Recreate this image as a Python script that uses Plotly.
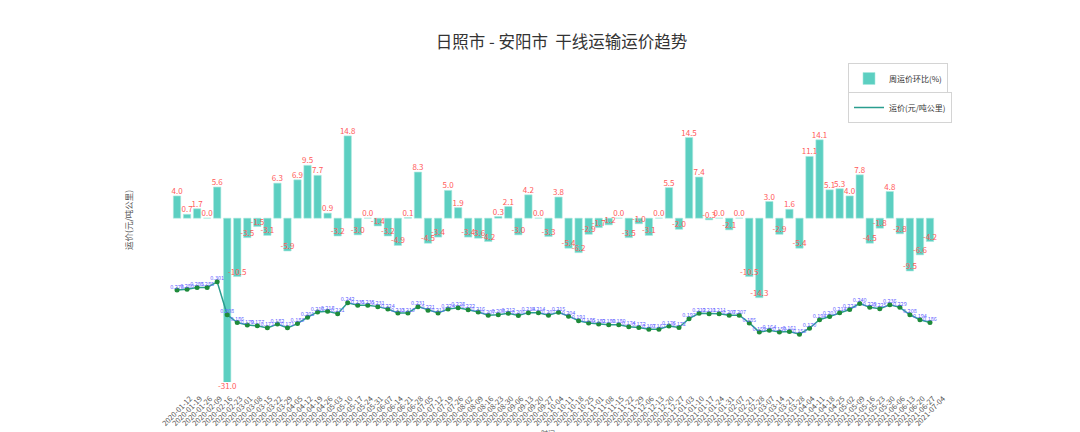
import plotly.graph_objects as go

dates = [
    "2020-01-12", "2020-01-19", "2020-01-26", "2020-02-09", "2020-02-16", "2020-02-23",
    "2020-03-01", "2020-03-08", "2020-03-15", "2020-03-22", "2020-03-29",
    "2020-04-05", "2020-04-12", "2020-04-19", "2020-04-26",
    "2020-05-03", "2020-05-10", "2020-05-17", "2020-05-24", "2020-05-31",
    "2020-06-07", "2020-06-14", "2020-06-21", "2020-06-28",
    "2020-07-05", "2020-07-12", "2020-07-19", "2020-07-26",
    "2020-08-02", "2020-08-09", "2020-08-16", "2020-08-23", "2020-08-30",
    "2020-09-06", "2020-09-13", "2020-09-20", "2020-09-27",
    "2020-10-04", "2020-10-11", "2020-10-18", "2020-10-25",
    "2020-11-01", "2020-11-08", "2020-11-15", "2020-11-22", "2020-11-29",
    "2020-12-06", "2020-12-13", "2020-12-20", "2020-12-27",
    "2021-01-03", "2021-01-10", "2021-01-17", "2021-01-24", "2021-01-31",
    "2021-02-07", "2021-02-21", "2021-02-28",
    "2021-03-07", "2021-03-14", "2021-03-21", "2021-03-28",
    "2021-04-04", "2021-04-11", "2021-04-18", "2021-04-25",
    "2021-05-02", "2021-05-09", "2021-05-16", "2021-05-23", "2021-05-30",
    "2021-06-06", "2021-06-13", "2021-06-20", "2021-06-27", "2021-07-04",
]

pct_change = [
    4.0, 0.7, 1.7, 0.0, 5.6, -31.0, -10.5, -3.5, -1.5, -3.1,
    6.3, -5.9, 6.9, 9.5, 7.7, 0.9, -3.2, 14.8, -3.0, 0.0,
    -1.4, -3.2, -4.9, 0.1, 8.3, -4.5, -3.4, 5.0, 1.9, -3.4,
    -3.6, -4.2, 0.3, 2.1, -3.0, 4.2, 0.0, -3.3, 3.8, -5.4,
    -6.2, -2.9, -1.7, -1.2, 0.0, -3.5, -1.0, -3.1, 0.0, 5.5,
    -2.0, 14.5, 7.4, -0.3, 0.0, -2.1, 0.0, -10.5, -14.3, 3.0,
    -2.9, 1.6, -5.4, 11.1, 14.1, 5.1, 5.3, 4.0, 7.8, -4.5,
    -1.8, 4.8, -2.8, -9.5, -6.6, -4.2,
]

price = [
    0.278, 0.280, 0.285, 0.285, 0.301, 0.208, 0.186, 0.179, 0.177, 0.171,
    0.182, 0.171, 0.183, 0.201, 0.216, 0.218, 0.211, 0.242, 0.235, 0.235,
    0.231, 0.224, 0.213, 0.213, 0.231, 0.221, 0.213, 0.224, 0.228, 0.222,
    0.216, 0.207, 0.208, 0.212, 0.206, 0.214, 0.214, 0.207, 0.215, 0.204,
    0.191, 0.185, 0.182, 0.180, 0.180, 0.174, 0.172, 0.167, 0.167, 0.176,
    0.172, 0.197, 0.212, 0.211, 0.211, 0.207, 0.207, 0.185, 0.159, 0.164,
    0.159, 0.161, 0.153, 0.170, 0.194, 0.203, 0.214, 0.223, 0.240, 0.229,
    0.225, 0.236, 0.229, 0.208, 0.194, 0.186,
]

FONT = "Noto Sans CJK SC"

fig = go.Figure()

fig.add_trace(go.Bar(
    x=dates, y=pct_change, name="周运价环比(%)",
    marker=dict(color="#5ccfc1", line=dict(color="#a9e9df", width=0.6)),
    yaxis="y", legend="legend", cliponaxis=True,
))

fig.add_trace(go.Scatter(
    x=dates, y=price, name="运价(元/吨公里)", mode="lines",
    line=dict(color="#2a9d8f", width=1.5),
    yaxis="y2", legend="legend2",
))
fig.add_trace(go.Scatter(
    x=dates, y=price, mode="markers", showlegend=False,
    marker=dict(color="#1f8b3b", size=5),
    yaxis="y2", cliponaxis=False,
))
fig.add_trace(go.Scatter(
    x=dates, y=price, mode="text", showlegend=False,
    text=[f"{v:.3f}" for v in price], textposition="top center",
    textfont=dict(size=5.5, color="#6464ff", family=FONT),
    yaxis="y2", cliponaxis=False,
))

# bar value labels on a taller axis with the same scale as the bar axis
fig.add_trace(go.Scatter(
    x=dates, y=pct_change, mode="text", showlegend=False,
    text=[f"{v:.1f}" for v in pct_change], textposition="top center",
    textfont=dict(size=8, color="#ff5a5a", family=FONT),
    yaxis="y3", cliponaxis=False,
))

fig.update_layout(
    width=1080, height=432,
    margin=dict(l=172, r=145, t=110, b=32, autoexpand=False),
    paper_bgcolor="white", plot_bgcolor="rgba(0,0,0,0)",
    font=dict(family=FONT, color="#333"),
    title=dict(text="日照市 - 安阳市  干线运输运价趋势", x=0.52, y=0.903,
               xanchor="center", yanchor="middle",
               font=dict(size=16.5, color="#333", family=FONT)),
    bargap=0.27,
    xaxis=dict(type="category", tickangle=-45, tickmode="linear", dtick=1,
               tickfont=dict(size=7.5, color="#555", family=FONT),
               ticklabelshift=13, ticklabelstandoff=10, anchor="y",
               showgrid=False, showline=False, zeroline=False, ticks="",
               automargin=False, range=[-0.5, len(dates) - 0.5]),
    yaxis=dict(domain=[0.0621, 1], range=[-29.46, 19.46], visible=False,
               showgrid=False, zeroline=False),
    yaxis2=dict(range=[0.0181, 0.7865], overlaying="y", visible=False,
                showgrid=False, zeroline=False),
    yaxis3=dict(domain=[0, 1], range=[-32.70, 19.46], anchor="x", visible=False,
                showgrid=False, zeroline=False),
    legend=dict(xref="container", yref="container", x=848 / 1080, y=1 - 63 / 432,
                xanchor="left", yanchor="top",
                bgcolor="white", bordercolor="#d4d4d4", borderwidth=1,
                font=dict(size=8, color="#333", family=FONT), itemwidth=30),
    legend2=dict(xref="container", yref="container", x=848 / 1080, y=1 - 92 / 432,
                 xanchor="left", yanchor="top",
                 bgcolor="white", bordercolor="#d4d4d4", borderwidth=1,
                 font=dict(size=8, color="#333", family=FONT), itemwidth=30),
    annotations=[
        dict(text="运价(元/吨公里)", xref="paper", yref="paper", x=-0.0577, y=0.6207,
             xanchor="center", yanchor="middle", textangle=-90, showarrow=False,
             font=dict(size=8.5, color="#555", family=FONT)),
        dict(text="时间", xref="paper", yref="paper", x=0.493, y=-0.0897,
             xanchor="center", yanchor="top", showarrow=False,
             font=dict(size=7, color="#555", family=FONT)),
    ],
)

fig.write_html(
    "out.html",
    config={"displayModeBar": False},
    post_script="document.body.style.margin='0px';document.body.style.overflow='hidden';",
)
